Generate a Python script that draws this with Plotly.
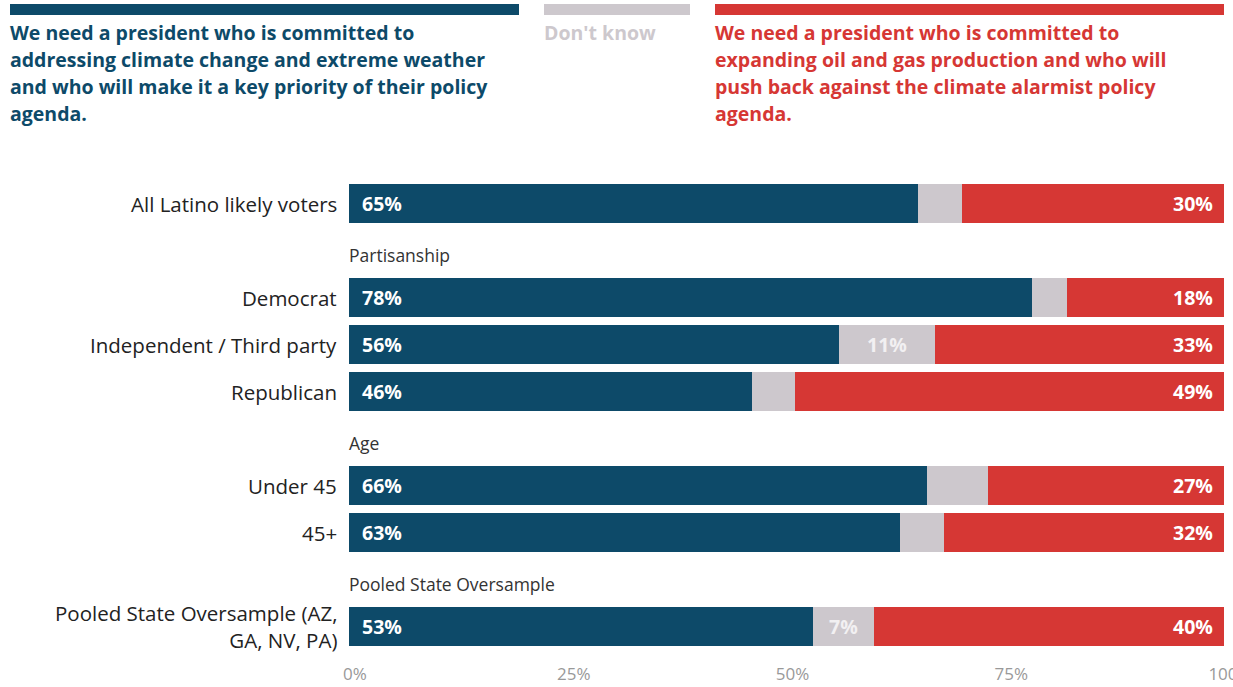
import plotly.graph_objects as go

# Survey rows (None marks a section heading)
row_labels = [
    "All Latino likely voters",
    None,
    "Democrat",
    "Independent / Third party",
    "Republican",
    None,
    "Under 45",
    "45+",
    None,
    "Pooled State Oversample (AZ,<br>GA, NV, PA)",
]
section_titles = ["Partisanship", "Age", "Pooled State Oversample"]

climate_pct = [65, 78, 56, 46, 66, 63, 53]
dont_know_pct = [5, 4, 11, 5, 7, 5, 7]
dont_know_labelled = [False, False, True, False, False, False, True]
oil_gas_pct = [30, 18, 33, 49, 27, 32, 40]

tick_vals = [0, 25, 50, 75, 100]
tick_text = ["0%", "25%", "50%", "75%", "100%"]

legend_climate = [
    "We need a president who is committed to",
    "addressing climate change and extreme weather",
    "and who will make it a key priority of their policy",
    "agenda.",
]
legend_dk = ["Don't know"]
legend_oil = [
    "We need a president who is committed to",
    "expanding oil and gas production and who will",
    "push back against the climate alarmist policy",
    "agenda.",
]

BLUE = "#0d4a69"
GRAY = "#cdc8cd"
RED = "#d63734"
FONT = "Open Sans"

# slot positions for bars and headings
bar_pos = [i for i, r in enumerate(row_labels) if r is not None]
head_pos = [i for i, r in enumerate(row_labels) if r is None]
bar_names = [r for r in row_labels if r is not None]

fig = go.Figure()
for vals, color, name in [(climate_pct, BLUE, "Climate"), (dont_know_pct, GRAY, "Don't know"),
                          (oil_gas_pct, RED, "Oil and gas")]:
    fig.add_trace(go.Bar(
        x=vals, y=bar_pos, orientation="h", name=name,
        marker=dict(color=color, line=dict(width=0)),
        width=0.81, hoverinfo="skip", showlegend=False,
    ))

ann = []
for y, c, d, show_d, o, name in zip(bar_pos, climate_pct, dont_know_pct, dont_know_labelled,
                                    oil_gas_pct, bar_names):
    lab_font = dict(family=FONT, size=19.5, color="white")
    ann.append(dict(x=0, y=y, xref="x", yref="y", text=f"<b>{c}%</b>", showarrow=False,
                    xanchor="left", xshift=11, font=lab_font))
    ann.append(dict(x=100, y=y, xref="x", yref="y", text=f"<b>{o}%</b>", showarrow=False,
                    xanchor="right", xshift=-9, font=lab_font))
    if show_d:
        ann.append(dict(x=c + d / 2, y=y, xref="x", yref="y", text=f"<b>{d}%</b>", showarrow=False,
                        xanchor="center", font=dict(family=FONT, size=19.5, color="#f2f0f2")))
    ann.append(dict(x=0, y=y, xref="paper", yref="y", text=name, showarrow=False,
                    xanchor="right", xshift=-10, align="right",
                    font=dict(family=FONT, size=20.5, color="#222222")))

for y, t in zip(head_pos, section_titles):
    ann.append(dict(x=0, y=y, xref="paper", yref="y", text=t, showarrow=False,
                    xanchor="left", xshift=-2, yshift=-4,
                    font=dict(family=FONT, size=17.5, color="#333333")))

# plot area in page pixels: left edge, width, bottom edge, height
L, W, B, H = 349, 875, 650, 470


def px_x(p):
    return (p - L) / W


def px_y(p):
    return (B - p) / H


# header key: colored strips with descriptions, one annotation per text line
shapes = []
for x0, x1, col in [(10, 519, BLUE), (544, 690, GRAY), (715, 1224, RED)]:
    shapes.append(dict(type="rect", xref="paper", yref="paper",
                       x0=px_x(x0), x1=px_x(x1), y0=px_y(15), y1=px_y(4),
                       fillcolor=col, line=dict(width=0), layer="above"))

for x0, lines, col in [(10, legend_climate, BLUE), (544, legend_dk, GRAY), (715, legend_oil, RED)]:
    for k, line in enumerate(lines):
        ann.append(dict(x=px_x(x0), y=px_y(32 + 27 * k), xref="paper", yref="paper",
                        text=f"<b>{line}</b>", showarrow=False, xanchor="left", yanchor="middle",
                        xshift=-2, font=dict(family=FONT, size=19.5, color=col)))

fig.update_layout(
    barmode="stack",
    width=1233, height=687,
    margin=dict(l=L, r=1233 - L - W, t=B - H, b=687 - B, pad=0, autoexpand=False),
    paper_bgcolor="white", plot_bgcolor="white",
    annotations=ann, shapes=shapes,
    xaxis=dict(range=[0, 100], tickvals=tick_vals, ticktext=tick_text, showgrid=False,
               zeroline=False, showline=False, ticks="outside", ticklen=9, automargin=False,
               tickcolor="rgba(0,0,0,0)", ticklabelshift=6, ticklabeloverflow="allow",
               tickfont=dict(family=FONT, size=17, color="#999999"), fixedrange=True),
    yaxis=dict(range=[len(row_labels) - 0.5, -0.5], showticklabels=False, showgrid=False,
               zeroline=False, showline=False, fixedrange=True, automargin=False),
    showlegend=False,
)

fig.write_html("out.html", config={"displayModeBar": False})
